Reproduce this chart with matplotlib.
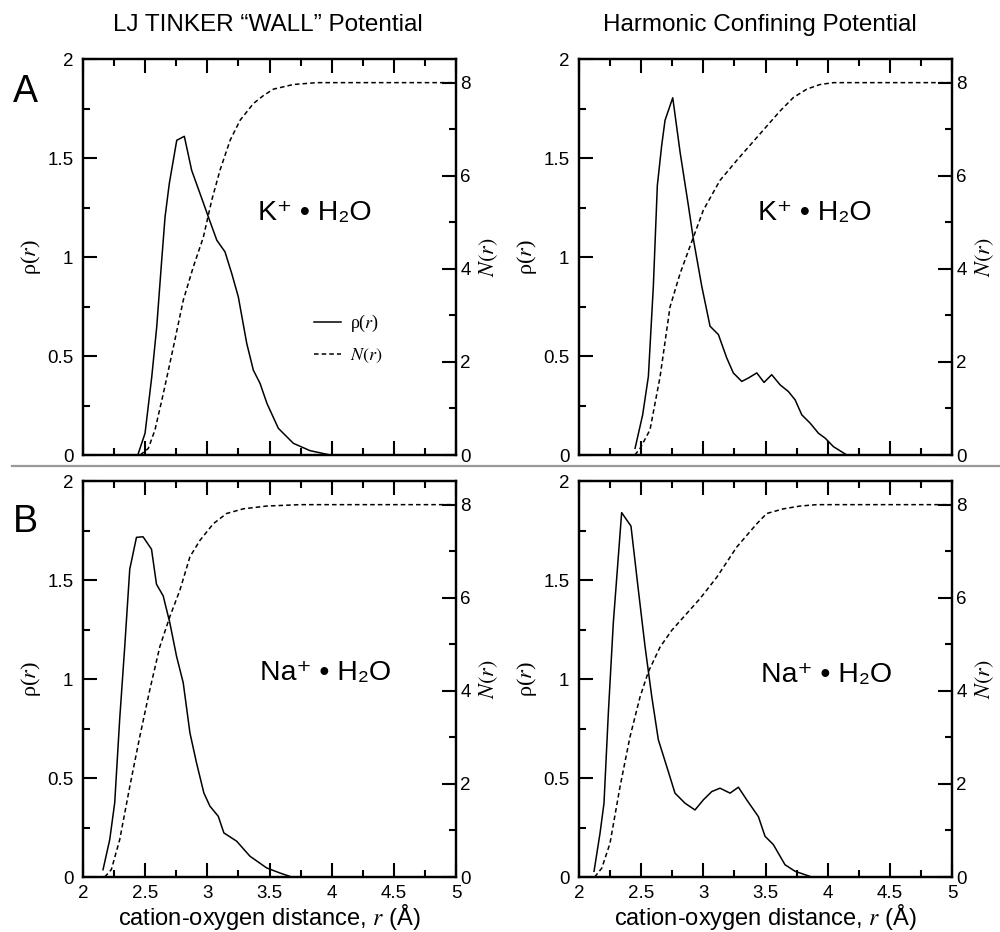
import numpy as np
import matplotlib.pyplot as plt
from matplotlib.lines import Line2D
from matplotlib.ticker import MultipleLocator

plt.rcParams['font.family'] = ['Liberation Sans', 'DejaVu Sans']
plt.rcParams['mathtext.fontset'] = 'stix'

# K+ , LJ TINKER wall
k_wall_r_rho = [2.445, 2.499, 2.553, 2.593, 2.633, 2.660, 2.694, 2.754, 2.815, 2.874, 2.941,
                3.008, 3.076, 3.142, 3.196, 3.249, 3.317, 3.370, 3.424, 3.480, 3.571, 3.692,
                3.826, 3.988]
k_wall_rho = [0.008, 0.11, 0.395, 0.648, 0.985, 1.204, 1.372, 1.591, 1.611, 1.439, 1.322,
              1.204, 1.086, 1.027, 0.918, 0.80, 0.564, 0.429, 0.362, 0.26, 0.135, 0.059,
              0.022, 0.0]
k_wall_r_n = [2.46, 2.525, 2.579, 2.646, 2.727, 2.807, 2.887, 2.968, 3.035, 3.102, 3.183,
              3.263, 3.370, 3.450, 3.531, 3.692, 3.88, 5.0]
k_wall_n = [0.0, 0.14, 0.54, 1.32, 2.32, 3.33, 4.04, 4.68, 5.47, 6.12, 6.76,
            7.19, 7.55, 7.72, 7.86, 7.96, 8.0, 8.0]

# K+ , harmonic confinement
k_harm_r_rho = [2.451, 2.512, 2.558, 2.598, 2.630, 2.665, 2.692, 2.754, 2.813, 2.880, 2.920,
                2.987, 3.054, 3.121, 3.188, 3.241, 3.309, 3.362, 3.430, 3.488, 3.550, 3.617,
                3.684, 3.738, 3.792, 3.859, 3.926, 3.980, 4.047, 4.154]
k_harm_rho = [0.034, 0.203, 0.397, 0.854, 1.362, 1.565, 1.692, 1.806, 1.531, 1.260, 1.091,
              0.854, 0.651, 0.609, 0.491, 0.415, 0.372, 0.389, 0.415, 0.367, 0.406, 0.355,
              0.321, 0.279, 0.203, 0.161, 0.110, 0.085, 0.042, 0.0]
k_harm_r_n = [2.449, 2.491, 2.571, 2.652, 2.732, 2.813, 2.920, 3.0, 3.134, 3.269, 3.456,
              3.617, 3.724, 3.832, 3.939, 4.047, 5.0]
k_harm_n = [0.0, 0.14, 0.54, 1.68, 3.18, 3.90, 4.68, 5.26, 5.90, 6.33, 6.90,
            7.39, 7.68, 7.86, 7.96, 8.0, 8.0]

# Na+ , LJ TINKER wall
na_wall_r_rho = [2.161, 2.215, 2.255, 2.295, 2.336, 2.376, 2.430, 2.483, 2.551, 2.591, 2.645,
                 2.698, 2.752, 2.806, 2.860, 2.913, 2.972, 3.021, 3.088, 3.133, 3.236, 3.343,
                 3.477, 3.585, 3.679]
na_wall_rho = [0.037, 0.189, 0.375, 0.797, 1.168, 1.556, 1.717, 1.720, 1.657, 1.480, 1.421,
               1.286, 1.117, 0.982, 0.729, 0.577, 0.425, 0.358, 0.307, 0.223, 0.181, 0.105,
               0.046, 0.020, 0.0]
na_wall_r_n = [2.175, 2.228, 2.295, 2.376, 2.457, 2.537, 2.618, 2.698, 2.779, 2.860, 2.940,
               3.048, 3.155, 3.289, 3.477, 3.746, 5.0]
na_wall_n = [0.0, 0.16, 0.80, 1.94, 3.02, 4.02, 4.95, 5.59, 6.16, 6.88, 7.23,
             7.59, 7.81, 7.91, 7.97, 8.0, 8.0]

# Na+ , harmonic confinement
na_harm_r_rho = [2.121, 2.169, 2.201, 2.236, 2.276, 2.343, 2.418, 2.477, 2.531, 2.585, 2.638,
                 2.706, 2.772, 2.853, 2.933, 3.0, 3.068, 3.134, 3.215, 3.282, 3.349, 3.443,
                 3.496, 3.563, 3.657, 3.738, 3.872]
na_harm_rho = [0.029, 0.221, 0.373, 0.829, 1.285, 1.842, 1.774, 1.453, 1.166, 0.913, 0.694,
               0.558, 0.424, 0.373, 0.339, 0.390, 0.432, 0.449, 0.424, 0.454, 0.390, 0.305,
               0.206, 0.164, 0.062, 0.029, 0.0]
na_harm_r_n = [2.126, 2.183, 2.249, 2.330, 2.410, 2.491, 2.558, 2.652, 2.746, 2.866, 2.973,
               3.108, 3.269, 3.430, 3.510, 3.644, 3.778, 3.912, 5.0]
na_harm_n = [0.0, 0.19, 0.72, 1.94, 3.01, 3.87, 4.41, 4.94, 5.30, 5.66, 5.98,
             6.44, 7.09, 7.59, 7.81, 7.91, 7.97, 8.0, 8.0]

x_ticks = [2, 2.5, 3, 3.5, 4, 4.5, 5]
x_tick_labels = ['2', '2.5', '3', '3.5', '4', '4.5', '5']
rho_ticks = [0, 0.5, 1, 1.5, 2]
rho_tick_labels = ['0', '0.5', '1', '1.5', '2']
n_ticks = [0, 2, 4, 6, 8]
n_tick_labels = ['0', '2', '4', '6', '8']

titles = ['LJ TINKER \u201cWALL\u201d Potential', 'Harmonic Confining Potential']
species = ['K\u207a \u2022 H\u2082O', 'Na\u207a \u2022 H\u2082O']
row_letters = ['A', 'B']

fig = plt.figure(figsize=(10, 9.32), dpi=100)

lefts = [0.083, 0.579]
bottoms = [0.5118, 0.059]
w, h = 0.373, 0.4245

panels = [
    (0, 0, k_wall_r_rho, k_wall_rho, k_wall_r_n, k_wall_n, (0.622, 0.611)),
    (0, 1, k_harm_r_rho, k_harm_rho, k_harm_r_n, k_harm_n, (0.633, 0.611)),
    (1, 0, na_wall_r_rho, na_wall_rho, na_wall_r_n, na_wall_n, (0.651, 0.516)),
    (1, 1, na_harm_r_rho, na_harm_rho, na_harm_r_n, na_harm_n, (0.665, 0.511)),
]

for row, col, rr, rho, rn, nn, lab_pos in panels:
    ax = fig.add_axes([lefts[col], bottoms[row], w, h])
    ax2 = ax.twinx()
    ax.plot(rr, rho, '-', color='black', lw=1.1)
    ax2.plot(rn, nn, '--', color='black', lw=1.1, dashes=(3, 2))

    ax.set_xlim(2, 5)
    ax.set_ylim(0, 2)
    ax2.set_ylim(0, 8.5)

    ax.set_xticks(x_ticks)
    ax.set_yticks(rho_ticks)
    ax.set_yticklabels(rho_tick_labels)
    ax2.set_yticks(n_ticks)
    ax2.set_yticklabels(n_tick_labels)
    ax.xaxis.set_minor_locator(MultipleLocator(0.25))
    ax.yaxis.set_minor_locator(MultipleLocator(0.25))
    ax2.yaxis.set_minor_locator(MultipleLocator(1))

    ax.tick_params(which='both', direction='in', top=True, right=False, width=1.5, labelsize=13.5)
    ax.tick_params(which='major', length=10)
    ax.tick_params(which='minor', length=5)
    ax.tick_params(axis='y', pad=7)
    ax.tick_params(axis='x', pad=6)
    ax2.tick_params(which='both', direction='in', width=1.5, labelsize=13.5, pad=3)
    ax2.tick_params(which='major', length=10)
    ax2.tick_params(which='minor', length=5)
    for a in (ax, ax2):
        for s in a.spines.values():
            s.set_linewidth(1.6)

    if row == 0:
        ax.tick_params(axis='x', labelbottom=False)
    else:
        ax.set_xticklabels(x_tick_labels)
        ax.set_xlabel('cation-oxygen distance, $r$ (\u00c5)', fontsize=17)
        ax.xaxis.set_label_coords(0.5, -0.062)

    ax.set_ylabel('\u03c1($r$)', family=['Liberation Serif', 'DejaVu Serif'], fontsize=16)
    ax.yaxis.set_label_coords(-0.107, 0.5)
    ax2.set_ylabel('$N(r)$', fontsize=16, rotation=90)
    ax2.yaxis.set_label_coords(1.056, 0.5)

    ax.text(lab_pos[0], lab_pos[1], species[row], transform=ax.transAxes,
            ha='center', va='center', fontsize=20.5)

    if row == 0 and col == 0:
        handles = [Line2D([], [], color='black', lw=1.1),
                   Line2D([], [], color='black', lw=1.1, ls='--', dashes=(3, 2))]
        ax.legend(handles, ['\u03c1($r$)', '$N(r)$'], loc='center left',
                  bbox_to_anchor=(0.575, 0.293), frameon=False, handlelength=1.5,
                  handletextpad=0.5, labelspacing=0.7,
                  prop={'family': ['Liberation Serif', 'DejaVu Serif'], 'size': 13})

for i, t in enumerate(titles):
    fig.text([0.268, 0.76][i], 1 - 25 / 932, t, ha='center', va='center', fontsize=17.5)

fig.text(0.025, 1 - 92 / 932, row_letters[0], ha='center', va='center', fontsize=27)
fig.text(0.025, 1 - 522 / 932, row_letters[1], ha='center', va='center', fontsize=27)

fig.add_artist(Line2D([0.012, 1.0], [1 - 466 / 932, 1 - 466 / 932], transform=fig.transFigure,
                      color='#999999', lw=1.6))

fig.savefig('out.png', dpi=100)
